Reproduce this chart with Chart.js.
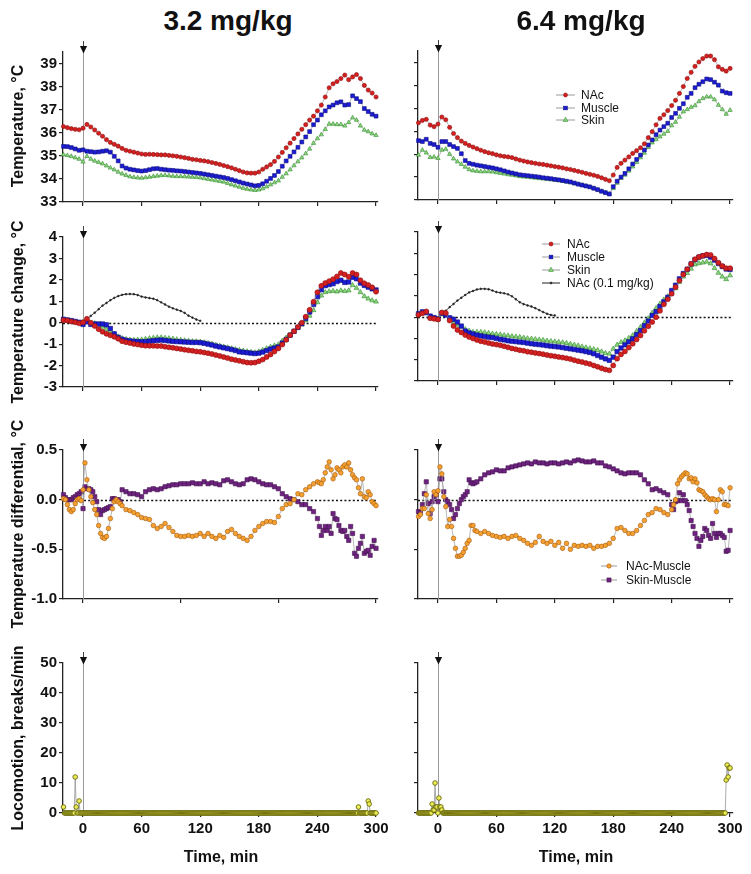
<!DOCTYPE html>
<html><head><meta charset="utf-8">
<script src="https://cdn.jsdelivr.net/npm/chart.js@4.4.1/dist/chart.umd.min.js"></script>
<style>
html,body{margin:0;padding:0;background:#fff;}
#wrap{position:relative;width:751px;height:874px;overflow:hidden;font-family:"Liberation Sans",Arial,Helvetica,sans-serif;color:#111;}
canvas{position:absolute;}
.t{position:absolute;white-space:nowrap;}
</style></head><body><div id="wrap"></div>
<script>
// ---------- time grids (min) ----------
const times = [-20,-16,-12,-8,-4,0,4,8,12,16,20,24,28,32,36,40,44,48,52,56,60,64,68,72,76,80,84,88,92,96,100,104,108,112,116,120,124,128,132,136,140,144,148,152,156,160,164,168,172,176,180,184,188,192,196,200,204,208,212,216,220,224,228,232,236,240,244,248,252,256,260,264,268,272,276,280,284,288,292,296,300];
const timesLow = [0,4,8,12,16,20,24,28,32,36,40,44,48,52,56,60,64,68,72,76,80,84,88,92,96,100,104,108,112,116,120];
const timesDiff = [-20,-18,-16,-14,-12,-10,-8,-6,-4,-2,0,2,4,6,8,10,12,14,16,18,20,22,24,26,28,30,32,34,36,38,40,
 44,48,52,56,60,64,68,72,76,80,84,88,92,96,100,104,108,112,116,120,124,128,132,136,140,144,148,152,156,160,164,168,172,176,180,184,188,192,196,200,204,208,212,216,220,224,228,232,236,240,
 242,244,246,248,250,252,254,256,258,260,262,264,266,268,270,272,274,276,278,280,282,284,286,288,290,292,294,296,298,300];
const timesLoco = [-20,-19,-18,-17,-16,-15,-14,-13,-12,-11,-10,-9,-8,-7,-6,-5,-4,-3,-2,-1,
0,1,2,3,4,5,6,7,8,9,10,11,12,13,14,15,16,17,18,19,
20,21,22,23,24,25,26,27,28,29,30,31,32,33,34,35,36,37,38,39,
40,41,42,43,44,45,46,47,48,49,50,51,52,53,54,55,56,57,58,59,
60,61,62,63,64,65,66,67,68,69,70,71,72,73,74,75,76,77,78,79,
80,81,82,83,84,85,86,87,88,89,90,91,92,93,94,95,96,97,98,99,
100,101,102,103,104,105,106,107,108,109,110,111,112,113,114,115,116,117,118,119,
120,121,122,123,124,125,126,127,128,129,130,131,132,133,134,135,136,137,138,139,
140,141,142,143,144,145,146,147,148,149,150,151,152,153,154,155,156,157,158,159,
160,161,162,163,164,165,166,167,168,169,170,171,172,173,174,175,176,177,178,179,
180,181,182,183,184,185,186,187,188,189,190,191,192,193,194,195,196,197,198,199,
200,201,202,203,204,205,206,207,208,209,210,211,212,213,214,215,216,217,218,219,
220,221,222,223,224,225,226,227,228,229,230,231,232,233,234,235,236,237,238,239,
240,241,242,243,244,245,246,247,248,249,250,251,252,253,254,255,256,257,258,259,
260,261,262,263,264,265,266,267,268,269,270,271,272,273,274,275,276,277,278,279,
280,281,282,283,284,285,286,287,288,289,290,291,292,293,294,295,296,297,298,299,
300];

// ---------- tick labels ----------
const xTicksMain = [0,60,120,180,240,300];
const xTicksDiffLeft = [0,100,200,300];
const yTicksTemp = [33,34,35,36,37,38,39];
const yTicksChange = [-3,-2,-1,0,1,2,3,4];
const yTicksDiff = [-1.0,-0.5,0.0,0.5];
const yTicksLoco = [0,10,20,30,40,50];

// ---------- Row 1: Temperature (°C) ----------
const tempL_NAc = [36.27,36.22,36.18,36.15,36.13, 36.2,36.36,36.25,36.12,35.98, 35.85,35.7,35.58,35.5,35.42, 35.32,35.24,35.2,35.16,35.12, 35.08,35.06,35.07,35.06,35.05, 35.04,35.04,35.02,35.0,34.98, 34.95,34.92,34.89,34.85,34.83, 34.8,34.78,34.75,34.71,34.67, 34.63,34.58,34.53,34.48,34.42, 34.36,34.3,34.26,34.25,34.25, 34.3,34.42,34.52,34.62,34.76, 34.95,35.15,35.35,35.55,35.75, 35.95,36.15,36.35,36.55,36.72, 36.95,37.2,37.55,37.95,38.12, 38.22,38.35,38.5,38.3,38.42, 38.52,38.35,38.05,37.85,37.72, 37.55];
const tempL_Muscle = [35.41,35.4,35.36,35.3,35.24, 35.26,35.2,35.18,35.16,35.17, 35.2,35.22,35.16,34.98,34.78, 34.56,34.47,34.42,34.39,34.36, 34.34,34.36,34.4,34.44,34.45, 34.42,34.4,34.38,34.37,34.35, 34.34,34.32,34.3,34.28,34.26, 34.24,34.21,34.18,34.15,34.12, 34.09,34.06,34.02,33.97,33.92, 33.87,33.82,33.78,33.74,33.7, 33.72,33.79,33.9,34.02,34.15, 34.32,34.55,34.78,34.98,35.17, 35.37,35.6,35.82,36.05,36.35, 36.55,36.78,36.95,37.12,37.2, 37.3,37.34,37.2,37.22,37.6, 37.48,37.35,37.05,36.92,36.8, 36.72];
const tempL_Skin = [35.05,35.02,34.98,34.92,34.86, 34.74,34.98,34.86,34.78,34.72, 34.66,34.57,34.48,34.4,34.3, 34.22,34.16,34.1,34.07,34.05, 34.04,34.06,34.08,34.11,34.13, 34.15,34.16,34.14,34.12,34.11, 34.11,34.1,34.09,34.08,34.07, 34.05,34.02,33.99,33.96,33.93, 33.9,33.87,33.81,33.75,33.7, 33.65,33.6,33.56,33.53,33.51, 33.53,33.58,33.66,33.75,33.84, 33.92,34.08,34.23,34.4,34.58, 34.75,34.92,35.1,35.3,35.55, 35.75,35.92,36.15,36.38,36.38, 36.36,36.36,36.3,36.45,36.65, 36.55,36.3,36.12,36.05,35.96, 35.89];
const tempR_NAc = [36.37,36.47,36.52,36.27,36.2, 36.31,36.62,36.5,36.17,35.9, 35.72,35.57,35.47,35.38,35.31, 35.24,35.17,35.11,35.06,35.02, 34.97,34.93,34.9,34.88,34.85, 34.79,34.74,34.7,34.66,34.63, 34.6,34.57,34.55,34.52,34.49, 34.46,34.43,34.4,34.36,34.33, 34.29,34.25,34.21,34.16,34.12, 34.08,34.03,33.97,33.9,33.84, 34.09,34.42,34.6,34.74,34.88, 35.03,35.15,35.28,35.45,35.72, 35.98,36.28,36.56,36.72,36.9, 37.12,37.35,37.65,37.95,38.3, 38.57,38.83,39.02,39.17,39.28, 39.28,39.12,38.81,38.7,38.62, 38.74];
const tempR_Muscle = [35.59,35.55,35.65,35.47,35.42, 35.3,35.55,35.55,35.42,35.33, 35.25,35.02,34.72,34.6,34.56, 34.52,34.49,34.46,34.43,34.4, 34.36,34.32,34.27,34.22,34.18, 34.14,34.1,34.08,34.06,34.04, 34.02,34.0,33.97,33.95,33.93, 33.9,33.88,33.85,33.82,33.79, 33.74,33.69,33.65,33.61,33.57, 33.51,33.45,33.38,33.32,33.26, 33.58,33.82,34.0,34.16,34.36, 34.57,34.77,34.96,35.18,35.4, 35.62,35.85,36.05,36.2,36.35, 36.6,36.78,37.0,37.2,37.48, 37.65,37.9,38.05,38.16,38.28, 38.25,38.14,38.01,37.75,37.68, 37.65];
const tempR_Skin = [34.96,35.18,35.06,34.86,34.88, 34.82,35.18,35.22,35.0,34.8, 34.67,34.56,34.44,34.33,34.28, 34.26,34.24,34.24,34.24,34.23, 34.2,34.17,34.14,34.11,34.09, 34.06,34.03,34.01,34.0,33.98, 33.96,33.94,33.93,33.91,33.89, 33.87,33.85,33.82,33.79,33.76, 33.72,33.69,33.65,33.61,33.57, 33.51,33.45,33.38,33.32,33.26, 33.51,33.74,33.95,34.09,34.27, 34.45,34.65,34.85,35.05,35.3, 35.5,35.64,35.76,35.88,36.0, 36.25,36.4,36.62,36.85,36.95, 37.05,37.12,37.3,37.43,37.5, 37.5,37.38,37.14,36.95,36.75, 36.92];

// ---------- Row 2: Temperature change (°C) ----------
const chgL_NAc = [0.12,0.1,0.06,0.02,-0.03, 0.02,0.18,0.0,-0.15,-0.3, -0.42,-0.52,-0.59,-0.66,-0.75, -0.86,-0.91,-0.95,-0.99,-1.02, -1.05,-1.07,-1.08,-1.08,-1.09, -1.09,-1.12,-1.15,-1.17,-1.2, -1.23,-1.26,-1.29,-1.31,-1.34, -1.36,-1.39,-1.42,-1.46,-1.51, -1.55,-1.6,-1.65,-1.7,-1.74, -1.78,-1.82,-1.86,-1.87,-1.86, -1.8,-1.72,-1.6,-1.48,-1.34, -1.2,-1.02,-0.8,-0.58,-0.4, -0.2,0.0,0.28,0.6,0.98, 1.42,1.72,1.85,1.94,2.03, 2.16,2.32,2.25,2.14,2.32, 2.25,1.98,1.84,1.76,1.65, 1.45];
const chgL_Muscle = [0.16,0.13,0.1,0.06,0.02, -0.08,0.04,-0.08,-0.06,-0.06, -0.06,-0.1,-0.27,-0.52,-0.68, -0.77,-0.82,-0.85,-0.87,-0.88, -0.89,-0.88,-0.86,-0.84,-0.82, -0.81,-0.83,-0.85,-0.87,-0.88, -0.89,-0.9,-0.91,-0.92,-0.92, -0.93,-0.96,-1.0,-1.04,-1.09, -1.13,-1.17,-1.21,-1.25,-1.3, -1.36,-1.38,-1.4,-1.42,-1.44, -1.42,-1.37,-1.3,-1.23,-1.18, -1.13,-0.95,-0.78,-0.58,-0.4, -0.22,-0.05,0.2,0.5,0.86, 1.22,1.54,1.73,1.78,1.82, 1.92,1.98,1.88,1.9,2.12, 2.05,1.85,1.74,1.66,1.58, 1.53];
const chgL_Skin = [0.12,0.1,0.07,0.04,0.0, 0.02,0.04,-0.01,-0.03,-0.08, -0.19,-0.31,-0.41,-0.52,-0.65, -0.73,-0.77,-0.8,-0.81,-0.8, -0.79,-0.76,-0.73,-0.71,-0.69, -0.69,-0.71,-0.73,-0.75,-0.78, -0.81,-0.83,-0.85,-0.87,-0.88, -0.89,-0.92,-0.96,-0.99,-1.04, -1.08,-1.12,-1.16,-1.2,-1.24, -1.28,-1.31,-1.34,-1.37,-1.39, -1.35,-1.28,-1.2,-1.13,-1.07, -1.02,-0.85,-0.7,-0.58,-0.42, -0.24,-0.08,0.1,0.32,0.58, 0.95,1.26,1.42,1.46,1.48, 1.45,1.5,1.47,1.5,1.75, 1.62,1.42,1.23,1.12,1.04, 0.98];
const chgL_NAcLow = [0.05,0.17,0.32,0.47,0.63,0.8,0.92,1.05,1.16,1.24,1.3,1.33,1.34,1.33,1.29,1.22,1.18,1.15,1.12,1.05,0.95,0.85,0.75,0.67,0.61,0.55,0.46,0.33,0.24,0.15,0.09];
const chgR_NAc = [0.11,0.18,0.27,-0.05,-0.08, -0.11,0.22,0.2,-0.16,-0.42, -0.6,-0.72,-0.84,-0.93,-1.0, -1.07,-1.13,-1.17,-1.22,-1.26, -1.29,-1.32,-1.37,-1.42,-1.47, -1.51,-1.55,-1.58,-1.62,-1.65, -1.68,-1.71,-1.74,-1.78,-1.81, -1.84,-1.87,-1.9,-1.93,-1.97, -2.02,-2.07,-2.11,-2.16,-2.2, -2.27,-2.33,-2.4,-2.46,-2.5, -2.27,-1.95,-1.75,-1.61,-1.43, -1.25,-1.05,-0.86,-0.64,-0.43, -0.23,0.0,0.3,0.6,0.84, 1.1,1.41,1.72,2.0,2.25, 2.5,2.72,2.83,2.88,2.94, 2.92,2.75,2.56,2.4,2.3, 2.3];
const chgR_Muscle = [0.16,0.25,0.21,0.05,-0.02, -0.08,0.18,0.1,-0.03,-0.1, -0.23,-0.42,-0.65,-0.74,-0.79, -0.84,-0.88,-0.91,-0.94,-0.96, -1.0,-1.04,-1.07,-1.11,-1.13, -1.15,-1.17,-1.19,-1.22,-1.25, -1.27,-1.29,-1.31,-1.34,-1.36, -1.38,-1.4,-1.43,-1.46,-1.49, -1.52,-1.55,-1.58,-1.62,-1.66, -1.72,-1.8,-1.88,-1.96,-2.03, -1.88,-1.62,-1.45,-1.3,-1.16, -1.02,-0.82,-0.63,-0.4,-0.18, 0.08,0.26,0.5,0.72,0.93, 1.25,1.5,1.8,2.05,2.25, 2.5,2.7,2.82,2.88,2.9, 2.82,2.68,2.52,2.38,2.26, 2.24];
const chgR_Skin = [0.11,0.2,0.23,0.0,-0.06, -0.11,0.13,0.1,-0.12,-0.29, -0.36,-0.45,-0.57,-0.65,-0.7, -0.7,-0.7,-0.72,-0.75,-0.78, -0.8,-0.82,-0.85,-0.87,-0.9, -0.92,-0.94,-0.97,-1.0,-1.02, -1.04,-1.06,-1.08,-1.11,-1.13, -1.15,-1.17,-1.19,-1.22,-1.26, -1.3,-1.34,-1.39,-1.43,-1.47, -1.51,-1.55,-1.62,-1.69,-1.72, -1.49,-1.3,-1.18,-1.1,-0.98, -0.86,-0.66,-0.47,-0.26,-0.06, 0.2,0.42,0.63,0.82,0.97, 1.1,1.35,1.65,1.9,2.07, 2.27,2.47,2.53,2.56,2.6, 2.52,2.3,2.08,1.9,1.78, 1.96];
const chgR_NAcLow = [-0.08,0.11,0.3,0.47,0.62,0.78,0.91,1.04,1.16,1.23,1.3,1.33,1.33,1.31,1.25,1.18,1.15,1.12,1.07,0.98,0.84,0.7,0.61,0.55,0.5,0.42,0.33,0.24,0.16,0.1,0.08];

// ---------- Row 3: Temperature differential (°C) ----------
const difL_NAcMuscle = [0.01,0,-0.05,-0.1,-0.12,-0.1,-0.04,0,0.01,-0.01, 0.1,0.37,0.2,0.1,0.03,-0.03,-0.1,-0.15,-0.26,-0.34, -0.38,-0.39,-0.37,-0.29,-0.19,-0.09,-0.02,0,-0.02,-0.04, -0.06,
 -0.1,-0.11,-0.13,-0.15,-0.18,-0.19,-0.2,-0.26,-0.29,-0.27, -0.24,-0.28,-0.32,-0.36,-0.37,-0.37,-0.36,-0.37,-0.36,-0.34, -0.37,-0.34,-0.37,-0.39,-0.36,-0.38,-0.32,-0.3,-0.34,-0.37, -0.39,-0.41,-0.37,-0.31,-0.27,-0.24,-0.22,-0.22,-0.23,-0.17, -0.09,-0.05,-0.04,0,0.06,0.05,0.1,0.13,0.16,0.18,
 0.17,0.16,0.2,0.27,0.33,0.38,0.3,0.21,0.25,0.32, 0.3,0.27,0.33,0.35,0.33,0.37,0.3,0.25,0.22,0.2, 0.12,0.06,0.21,0.03,0.02,0.08,0.05,-0.02,-0.04,-0.06];
const difL_SkinMuscle = [0.05,0.02,0,0,0,0.02,0.03,0.05,0.06,0.08, -0.09,0.13,0.11,0.11,0.1,0.08,0.03,-0.02,-0.1,-0.15, -0.11,-0.1,-0.09,-0.08,-0.07,0.01,0.01,0,0,-0.02, 0.1,
 0.08,0.06,0.06,0.05,0.03,0.08,0.1,0.11,0.1,0.11, 0.13,0.14,0.15,0.15,0.16,0.16,0.16,0.17,0.16,0.16, 0.18,0.16,0.17,0.16,0.15,0.19,0.2,0.18,0.16,0.15, 0.16,0.2,0.21,0.2,0.18,0.16,0.15,0.15,0.13,0.11, 0.06,0.03,0.01,0,-0.02,-0.05,-0.05,-0.09,-0.12,-0.19,
 -0.27,-0.36,-0.31,-0.27,-0.31,-0.27,-0.34,-0.14,-0.19,-0.2, -0.26,-0.31,-0.32,-0.31,-0.37,-0.41,-0.27,-0.34,-0.54,-0.57, -0.49,-0.44,-0.37,-0.54,-0.52,-0.51,-0.56,-0.47,-0.41,-0.49];
const difR_NAcMuscle = [-0.17,-0.15,-0.09,-0.09,0.05,-0.14,-0.19,-0.1,0.08,0.05, 0.09,0.33,0.26,0.03,-0.07,-0.27,-0.2,-0.27,-0.39,-0.49, -0.57,-0.57,-0.56,-0.53,-0.49,-0.44,-0.41,-0.26,-0.26,-0.31, -0.32,
 -0.34,-0.32,-0.34,-0.36,-0.37,-0.38,-0.37,-0.39,-0.37,-0.36, -0.39,-0.41,-0.44,-0.46,-0.43,-0.37,-0.42,-0.44,-0.42,-0.46, -0.43,-0.49,-0.44,-0.5,-0.46,-0.47,-0.46,-0.47,-0.46,-0.49, -0.47,-0.47,-0.46,-0.44,-0.39,-0.29,-0.28,-0.31,-0.34,-0.34, -0.31,-0.26,-0.21,-0.15,-0.13,-0.09,-0.1,-0.13,-0.15,-0.1,
 -0.05,0,0.16,0.2,0.23,0.25,0.27,0.26,0.21,0.22, 0.18,0.21,0.17,0.1,0.09,0.08,0.05,0.03,0.01,0, 0.01,0,-0.12,0,0.1,0.08,-0.05,-0.05,-0.06,0.12];
const difR_SkinMuscle = [-0.12,-0.13,-0.05,0.06,0.18,-0.04,-0.14,-0.02,0.03,0.05, -0.02,0.21,0.21,0.08,0,-0.02,-0.05,-0.1,-0.19,-0.15, -0.09,-0.04,0,0.03,0.05,0.08,0.2,0.17,0.16,0.17, 0.18,
 0.21,0.25,0.27,0.28,0.3,0.29,0.29,0.32,0.33,0.34, 0.35,0.36,0.37,0.36,0.38,0.37,0.37,0.36,0.37,0.37, 0.36,0.37,0.38,0.37,0.39,0.4,0.39,0.38,0.38,0.39, 0.37,0.37,0.34,0.33,0.31,0.29,0.27,0.26,0.27,0.27, 0.27,0.25,0.2,0.16,0.1,0.11,0.09,0.07,0.05,-0.05,
 -0.1,-0.02,-0.01,0.07,-0.01,0.05,-0.01,-0.05,-0.11,-0.21, -0.27,-0.34,-0.39,-0.47,-0.41,-0.37,-0.29,-0.31,-0.36,-0.39, -0.24,-0.34,-0.38,-0.34,-0.34,-0.36,-0.38,-0.52,-0.51,-0.31];

// ---------- Row 4: Locomotion (breaks/min) ----------
const locoL = [2,0,0,0,0,0,0,0,0,0,0,0,12,2,0,0,4,0,0,0,
0,0,0,0,0,0,0,0,0,0,0,0,0,0,0,0,0,0,0,0,
0,0,0,0,0,0,0,0,0,0,0,0,0,0,0,0,0,0,0,0,
0,0,0,0,0,0,0,0,0,0,0,0,0,0,0,0,0,0,0,0,
0,0,0,0,0,0,0,0,0,0,0,0,0,0,0,0,0,0,0,0,
0,0,0,0,0,0,0,0,0,0,0,0,0,0,0,0,0,0,0,0,
0,0,0,0,0,0,0,0,0,0,0,0,0,0,0,0,0,0,0,0,
0,0,0,0,0,0,0,0,0,0,0,0,0,0,0,0,0,0,0,0,
0,0,0,0,0,0,0,0,0,0,0,0,0,0,0,0,0,0,0,0,
0,0,0,0,0,0,0,0,0,0,0,0,0,0,0,0,0,0,0,0,
0,0,0,0,0,0,0,0,0,0,0,0,0,0,0,0,0,0,0,0,
0,0,0,0,0,0,0,0,0,0,0,0,0,0,0,0,0,0,0,0,
0,0,0,0,0,0,0,0,0,0,0,0,0,0,0,0,0,0,0,0,
0,0,0,0,0,0,0,0,0,0,0,0,0,0,0,0,0,0,0,0,
0,0,0,0,0,0,0,0,0,0,0,0,0,0,0,0,0,0,0,0,
0,0,2,0,0,0,0,0,0,0,0,0,4,3,0,0,0,0,0,0,
0];
const locoR = [0,0,0,0,0,0,0,0,0,0,0,0,0,0,3,1,1,10,2,2,
0,5,2,2,1,0,0,0,0,0,0,0,0,0,0,0,0,0,0,0,
0,0,0,0,0,0,0,0,0,0,0,0,0,0,0,0,0,0,0,0,
0,0,0,0,0,0,0,0,0,0,0,0,0,0,0,0,0,0,0,0,
0,0,0,0,0,0,0,0,0,0,0,0,0,0,0,0,0,0,0,0,
0,0,0,0,0,0,0,0,0,0,0,0,0,0,0,0,0,0,0,0,
0,0,0,0,0,0,0,0,0,0,0,0,0,0,0,0,0,0,0,0,
0,0,0,0,0,0,0,0,0,0,0,0,0,0,0,0,0,0,0,0,
0,0,0,0,0,0,0,0,0,0,0,0,0,0,0,0,0,0,0,0,
0,0,0,0,0,0,0,0,0,0,0,0,0,0,0,0,0,0,0,0,
0,0,0,0,0,0,0,0,0,0,0,0,0,0,0,0,0,0,0,0,
0,0,0,0,0,0,0,0,0,0,0,0,0,0,0,0,0,0,0,0,
0,0,0,0,0,0,0,0,0,0,0,0,0,0,0,0,0,0,0,0,
0,0,0,0,0,0,0,0,0,0,0,0,0,0,0,0,0,0,0,0,
0,0,0,0,0,0,0,0,0,0,0,0,0,0,0,0,0,0,0,0,
0,0,0,0,0,0,0,0,0,0,0,0,0,0,0,0,11,16,12,15,
15];

// ---------- text ----------
const colTitles = ['3.2 mg/kg','6.4 mg/kg'];
const yTitles = ['Temperature, °C','Temperature change, °C','Temperature differential, °C','Locomotion, breaks/min'];
const xTitle = 'Time, min';
const legendTemp = ['NAc','Muscle','Skin'];
const legendChange = ['NAc','Muscle','Skin','NAc (0.1 mg/kg)'];
const legendDiff = ['NAc-Muscle','Skin-Muscle'];

// ---------- styles ----------
const FONT = '"Liberation Sans", Arial, Helvetica, sans-serif';
const LINE = '#9a9a9a';
const ST = {
  nac:   {pointStyle:'circle',  pointRadius:2.1, pointBackgroundColor:'#d42020', pointBorderColor:'#8e0d0d'},
  mus:   {pointStyle:'rect',    pointRadius:2.7, pointBackgroundColor:'#1c1cd6', pointBorderColor:'#0c0c80'},
  skin:  {pointStyle:'triangle',pointRadius:2.5, pointBackgroundColor:'#8fd47c', pointBorderColor:'#2f8f2f'},
  nac2:  {pointStyle:'circle',  pointRadius:2.5, pointBackgroundColor:'#d42020', pointBorderColor:'#8e0d0d'},
  mus2:  {pointStyle:'rect',    pointRadius:3.1, pointBackgroundColor:'#1c1cd6', pointBorderColor:'#0c0c80'},
  skin2: {pointStyle:'triangle',pointRadius:2.8, pointBackgroundColor:'#8fd47c', pointBorderColor:'#2f8f2f'},
  low:   {pointStyle:'circle',  pointRadius:0.9, pointBackgroundColor:'#222', pointBorderColor:'#222', borderColor:'#222', borderWidth:0.9},
  nm:    {pointStyle:'circle',  pointRadius:2.3, pointBackgroundColor:'#f5a030', pointBorderColor:'#a65a0c'},
  sm:    {pointStyle:'rect',    pointRadius:3.0, pointBackgroundColor:'#6e2380', pointBorderColor:'#45104f'},
  loco:  {pointStyle:'circle',  pointRadius:2.3, pointBackgroundColor:'#eeee55', pointBorderColor:'#66660a', pointBorderWidth:0.9, borderColor:'#888'}
};
function ds(xs, ys, st) {
  return Object.assign({
    data: xs.map((x,i)=>({x:x, y:ys[i]})),
    borderColor: LINE, borderWidth: 0.7, pointBorderWidth: 0.6,
    fill:false, tension:0, clip:false, pointHoverRadius:0
  }, st);
}

const wrap = document.getElementById('wrap');
function addText(txt, css) {
  const d = document.createElement('div'); d.className='t'; d.textContent = txt;
  Object.assign(d.style, css); wrap.appendChild(d); return d;
}

// decoration plugin: injection arrow at t=0, vertical line, dotted zero line
const decor = {
  id:'decor',
  beforeDatasetsDraw(chart, args, opts) {
    const ctx = chart.ctx, a = chart.chartArea, x = chart.scales.x, y = chart.scales.y;
    ctx.save();
    if (opts.zero) {
      const py = Math.round(y.getPixelForValue(0)) + 0.5;
      ctx.strokeStyle = '#111'; ctx.lineWidth = 1.3; ctx.setLineDash([2,2.2]);
      ctx.beginPath(); ctx.moveTo(a.left, py); ctx.lineTo(a.right, py); ctx.stroke();
      ctx.setLineDash([]);
    }
    const px = Math.round(x.getPixelForValue(0)) + 0.5;
    ctx.strokeStyle = '#9a9a9a'; ctx.lineWidth = 1;
    ctx.beginPath(); ctx.moveTo(px, a.top - 11); ctx.lineTo(px, a.bottom); ctx.stroke();
    ctx.restore();
  },
  afterDatasetsDraw(chart) {
    const ctx = chart.ctx, a = chart.chartArea, x = chart.scales.x;
    const px = Math.round(x.getPixelForValue(0)) + 0.5;
    ctx.save();
    ctx.strokeStyle = '#444'; ctx.lineWidth = 1;
    ctx.beginPath(); ctx.moveTo(px, a.top - 11); ctx.lineTo(px, a.top - 5); ctx.stroke();
    ctx.fillStyle = '#111';
    ctx.beginPath(); ctx.moveTo(px-3.6, a.top-6); ctx.lineTo(px+3.6, a.top-6); ctx.lineTo(px, a.top+1.5); ctx.closePath(); ctx.fill();
    ctx.restore();
  }
};

const PT = 16, PR = 18, PB = 10;
function panel(p) {
  const WY = p.yLabels ? 60 : 10;
  const HX = p.xLabels ? 26 : 8;
  const cw = (p.right - p.left) + WY + PR;
  const ch = (p.bottom - p.top) + PT + HX + PB;
  const c = document.createElement('canvas');
  c.width = cw; c.height = ch;
  c.style.left = (p.left - WY) + 'px'; c.style.top = (p.top - PT) + 'px';
  c.style.width = cw + 'px'; c.style.height = ch + 'px';
  wrap.appendChild(c);
  const tickFont = {family: FONT, size: 15, weight: 'bold'};
  const grid = {display:true, drawOnChartArea:false, drawTicks:true, tickLength:4, color:'#222', lineWidth:1.2};
  const border = {display:true, color:'#222', width:1.3};
  new Chart(c, {
    type:'line',
    data:{datasets:p.datasets},
    options:{
      responsive:false, animation:false, devicePixelRatio:1, events:[],
      layout:{padding:{left:0, right:PR, top:PT, bottom:PB}},
      plugins:{legend:{display:false}, tooltip:{enabled:false}, decor:{zero:!!p.zero}},
      scales:{
        x:{type:'linear', position:'bottom', min:p.xmin, max:p.xmax,
           afterBuildTicks:s=>{ s.ticks = p.xt.map(v=>({value:v})); },
           afterFit:s=>{ s.height = HX; },
           grid:grid, border:border,
           ticks:{display:!!p.xLabels, font:tickFont, color:'#111', padding:3, maxRotation:0, autoSkip:false, callback:v=>String(v)}},
        y:{type:'linear', position:'left', min:p.ymin, max:p.ymax,
           afterBuildTicks:s=>{ s.ticks = p.yt.map(v=>({value:v})); },
           afterFit:s=>{ s.width = WY; },
           grid:grid, border:border,
           ticks:{display:!!p.yLabels, font:tickFont, color:'#111', padding:2, autoSkip:false, callback:p.yfmt || (v=>String(v))}}
      }
    },
    plugins:[decor]
  });
}

const L = {left:63, right:378, xmin:-20.5, xmax:302, yLabels:true};
const R = {left:418, right:733, xmin:-20.5, xmax:303, yLabels:false};
const fmt1 = v => v.toFixed(1);

// Row 1
panel(Object.assign({}, L, {top:52, bottom:202, ymin:33, ymax:39.5, yt:yTicksTemp, xt:xTicksMain,
  datasets:[ds(times,tempL_NAc,ST.nac), ds(times,tempL_Muscle,ST.mus), ds(times,tempL_Skin,ST.skin)]}));
panel(Object.assign({}, R, {top:51, bottom:200, ymin:33, ymax:39.5, yt:yTicksTemp, xt:xTicksMain,
  datasets:[ds(times,tempR_NAc,ST.nac), ds(times,tempR_Muscle,ST.mus), ds(times,tempR_Skin,ST.skin)]}));
// Row 2
panel(Object.assign({}, L, {top:237, bottom:387, ymin:-3, ymax:4, yt:yTicksChange, xt:xTicksMain, zero:true,
  datasets:[ds(times,chgL_NAc,ST.nac2), ds(times,chgL_Muscle,ST.mus2), ds(times,chgL_Skin,ST.skin2), ds(timesLow,chgL_NAcLow,ST.low)]}));
panel(Object.assign({}, R, {top:232, bottom:381, ymin:-3, ymax:4, yt:yTicksChange, xt:xTicksMain, zero:true,
  datasets:[ds(times,chgR_NAc,ST.nac2), ds(times,chgR_Muscle,ST.mus2), ds(times,chgR_Skin,ST.skin2), ds(timesLow,chgR_NAcLow,ST.low)]}));
// Row 3
panel(Object.assign({}, L, {top:450, bottom:599, ymin:-1, ymax:0.5, yt:yTicksDiff, xt:xTicksDiffLeft, zero:true, yfmt:fmt1,
  datasets:[ds(timesDiff,difL_NAcMuscle,ST.nm), ds(timesDiff,difL_SkinMuscle,ST.sm)]}));
panel(Object.assign({}, R, {top:450, bottom:599, ymin:-1, ymax:0.5, yt:yTicksDiff, xt:xTicksMain, zero:true, yfmt:fmt1,
  datasets:[ds(timesDiff,difR_NAcMuscle,ST.nm), ds(timesDiff,difR_SkinMuscle,ST.sm)]}));
// Row 4
panel(Object.assign({}, L, {top:663, bottom:813, ymin:0, ymax:50, yt:yTicksLoco, xt:xTicksMain, xLabels:true,
  datasets:[ds(timesLoco,locoL,ST.loco)]}));
panel(Object.assign({}, R, {top:663, bottom:813, ymin:0, ymax:50, yt:yTicksLoco, xt:xTicksMain, xLabels:true,
  datasets:[ds(timesLoco,locoR,ST.loco)]}));

// ---------- HTML text ----------
addText(colTitles[0], {left:(228-150)+'px', top:'7px', width:'300px', textAlign:'center', font:'bold 28px '+FONT, lineHeight:'28px'});
addText(colTitles[1], {left:(581-150)+'px', top:'7px', width:'300px', textAlign:'center', font:'bold 28px '+FONT, lineHeight:'28px'});
const yCenters = [126, 312, 524, 738];
yTitles.forEach((t,i)=>{
  addText(t, {left:(18-150)+'px', top:(yCenters[i]-10)+'px', width:'300px', height:'20px', textAlign:'center',
    font:'bold 16px '+FONT, lineHeight:'20px', transform:'rotate(-90deg)', transformOrigin:'50% 50%'});
});
addText(xTitle, {left:(221-100)+'px', top:'847px', width:'200px', textAlign:'center', font:'bold 16px '+FONT, lineHeight:'20px'});
addText(xTitle, {left:(576-100)+'px', top:'847px', width:'200px', textAlign:'center', font:'bold 16px '+FONT, lineHeight:'20px'});

// ---------- legends ----------
function markerSVG(st, len) {
  const cx = len/2, cy = 5;
  const bg = st.pointBackgroundColor, bc = st.pointBorderColor, lc = st.borderColor || LINE;
  let shape = '';
  if (st.pointStyle === 'circle') shape = `<circle cx="${cx}" cy="${cy}" r="${Math.max(st.pointRadius*0.95,1)}" fill="${bg}" stroke="${bc}" stroke-width="0.6"/>`;
  else if (st.pointStyle === 'rect') { const s = st.pointRadius*1.35; shape = `<rect x="${cx-s/2}" y="${cy-s/2}" width="${s}" height="${s}" fill="${bg}" stroke="${bc}" stroke-width="0.6"/>`; }
  else { const r = st.pointRadius*1.1; shape = `<polygon points="${cx},${cy-r} ${cx+r*0.87},${cy+r*0.5} ${cx-r*0.87},${cy+r*0.5}" fill="${bg}" stroke="${bc}" stroke-width="0.6"/>`; }
  return `<svg width="${len}" height="10" xmlns="http://www.w3.org/2000/svg"><line x1="0" y1="${cy}" x2="${len}" y2="${cy}" stroke="${lc}" stroke-width="1"/>${shape}</svg>`;
}
function legend(labels, styles, x0, len, tx, ys) {
  labels.forEach((lab,i)=>{
    const m = document.createElement('div');
    m.style.position='absolute'; m.style.left = x0+'px'; m.style.top = (ys[i]-5)+'px';
    m.style.width = len+'px'; m.style.height='10px'; m.style.lineHeight='0';
    m.innerHTML = markerSVG(styles[i], len);
    wrap.appendChild(m);
    addText(lab, {left:tx+'px', top:(ys[i]-7)+'px', font:'12px '+FONT, lineHeight:'14px', color:'#111'});
  });
}
legend(legendTemp, [ST.nac, ST.mus, ST.skin], 556, 19, 581, [95, 107.5, 119.5]);
legend(legendChange, [ST.nac, ST.mus, ST.skin, ST.low], 542, 18, 567, [243.5, 257, 270, 283]);
legend(legendDiff, [ST.nm, ST.sm], 601, 16, 626, [566, 579.5]);
</script></body></html>
